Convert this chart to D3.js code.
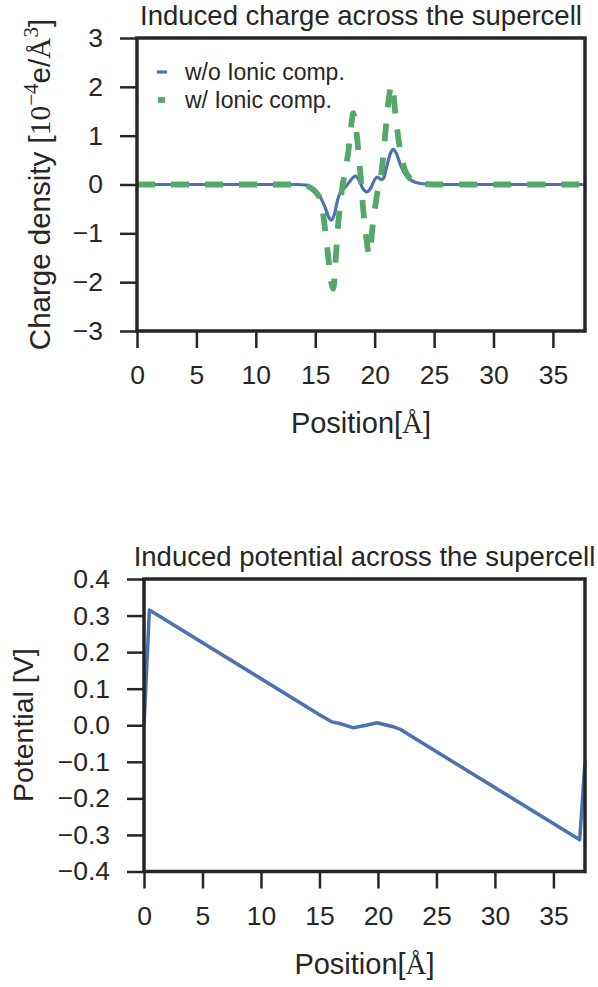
<!doctype html>
<html>
<head>
<meta charset="utf-8">
<title>Induced charge / potential</title>
<script src="https://cdn.jsdelivr.net/npm/d3@7"></script>
<style>
body{margin:0;background:#fff;}
text{font-family:"Liberation Sans",Arial,sans-serif;fill:#262626;}
.serif{font-family:"Liberation Serif","DejaVu Serif",serif;}
</style>
</head>
<body>
<script>
// induced charge density, 10^-4 e/Å^3
var posNoIon = [0, 13.5, 14.2, 14.6, 15.0, 15.4, 15.8, 16.1, 16.35, 16.6, 16.9, 17.2, 17.5, 17.9, 18.2, 18.4, 18.7, 19.0, 19.35, 19.7, 20.0, 20.25, 20.55, 20.75, 21.0, 21.3, 21.55, 21.8, 22.2, 22.7, 23.1, 23.5, 24.0, 25.0, 37.7];
var rhoNoIon = [0, 0, -0.01, -0.05, -0.13, -0.25, -0.45, -0.65, -0.73, -0.62, -0.3, -0.12, -0.06, 0.06, 0.15, 0.17, 0.08, -0.08, -0.15, -0.06, 0.1, 0.15, 0.1, 0.13, 0.35, 0.62, 0.72, 0.65, 0.38, 0.16, 0.08, 0.04, 0.015, 0, 0];
var posIon = [0, 13.5, 14.3, 14.85, 15.2, 15.5, 15.8, 16.1, 16.35, 16.52, 16.7, 16.9, 17.2, 17.5, 17.8, 18.05, 18.2, 18.4, 18.77, 19.04, 19.3, 19.55, 19.88, 20.17, 20.6, 20.87, 21.14, 21.43, 21.8, 22.1, 22.55, 23.0, 23.7, 24.5, 25.5, 37.7];
var rhoIon = [0, 0, -0.03, -0.11, -0.2, -0.35, -0.86, -1.5, -2.0, -2.13, -1.6, -0.9, -0.18, 0.25, 0.7, 1.25, 1.46, 1.2, 0.3, -0.52, -1.1, -1.44, -0.73, -0.25, 0.3, 0.98, 1.66, 2.04, 1.32, 0.77, 0.3, 0.12, 0.03, 0.005, 0, 0];

// induced potential, V
var posPot = [0, 0.46, 15.0, 16.0, 16.8, 17.9, 19.0, 19.9, 21.3, 21.9, 23.0, 37.25, 37.7];
var potential = [0, 0.315, 0.029, 0.01, 0.004, -0.007, 0.0, 0.007, -0.004, -0.011, -0.033, -0.313, -0.1];

var posTicks = [0, 5, 10, 15, 20, 25, 30, 35];
var rhoTicks = [-3, -2, -1, 0, 1, 2, 3];
var potTicks = [-0.4, -0.3, -0.2, -0.1, 0.0, 0.1, 0.2, 0.3, 0.4];

var blue = "#4c72b0", green = "#55a868", ink = "#262626";
var W = 598, H = 987;

var svg = d3.select("body").append("svg")
  .attr("width", W).attr("height", H);

function panel(box, yDomain, yTicks, yFmt, title) {
  var x = d3.scaleLinear().domain([0, 37.7]).range([box.left, box.right]);
  var y = d3.scaleLinear().domain(yDomain).range([box.bottom, box.top]);

  // axes, ticks outward like seaborn "ticks" style
  var gx = svg.append("g")
    .attr("transform", "translate(0," + box.bottom + ")")
    .call(d3.axisBottom(x).tickValues(posTicks).tickSize(17).tickSizeOuter(0).tickPadding(17.5));
  var gy = svg.append("g")
    .attr("transform", "translate(" + box.left + ",0)")
    .call(d3.axisLeft(y).tickValues(yTicks).tickFormat(yFmt).tickSize(17).tickSizeOuter(0).tickPadding(17));
  [gx, gy].forEach(function(g){
    g.select(".domain").remove();
    g.selectAll("line").attr("stroke", ink).attr("stroke-width", 2.5);
    g.selectAll("text").attr("font-size", 26.5).attr("fill", ink)
      .style("font-family", "'Liberation Sans',Arial,sans-serif");
  });

  svg.append("text")
    .attr("x", (box.left + box.right) / 2).attr("y", box.top - 13)
    .attr("text-anchor", "middle").attr("font-size", 27.5)
    .text(title);

  var xl = svg.append("text")
    .attr("x", (box.left + box.right) / 2).attr("y", box.bottom + 102)
    .attr("text-anchor", "middle").attr("font-size", 29);
  xl.append("tspan").text("Position[");
  xl.append("tspan").attr("class", "serif").text("Å");
  xl.append("tspan").text("]");

  return {x: x, y: y};
}

// ---------- upper panel: charge density ----------
var boxA = {left: 137, right: 585, top: 38, bottom: 331};
var s1 = panel(boxA, [-3, 3], rhoTicks, d3.format("d"), "Induced charge across the supercell");

svg.append("clipPath").attr("id", "c1").append("rect")
  .attr("x", boxA.left).attr("y", boxA.top)
  .attr("width", boxA.right - boxA.left).attr("height", boxA.bottom - boxA.top);

var line1 = d3.line().curve(d3.curveMonotoneX);
svg.append("path")
  .attr("clip-path", "url(#c1)")
  .attr("d", line1(posNoIon.map(function(d, i){ return [s1.x(d), s1.y(rhoNoIon[i])]; })))
  .attr("fill", "none").attr("stroke", blue).attr("stroke-width", 3.2);
svg.append("path")
  .attr("clip-path", "url(#c1)")
  .attr("d", line1(posIon.map(function(d, i){ return [s1.x(d), s1.y(rhoIon[i])]; })))
  .attr("fill", "none").attr("stroke", green).attr("stroke-width", 5.8)
  .attr("stroke-dasharray", "18,16");

svg.append("rect")
  .attr("x", boxA.left).attr("y", boxA.top)
  .attr("width", boxA.right - boxA.left).attr("height", boxA.bottom - boxA.top)
  .attr("fill", "none").attr("stroke", ink).attr("stroke-width", 3.5);

// y label with mathtext-ish parts
var yl1 = svg.append("text")
  .attr("transform", "translate(50," + (boxA.top + boxA.bottom) / 2 + ") rotate(-90)")
  .attr("text-anchor", "middle").attr("font-size", 29.5);
yl1.append("tspan").text("Charge density [");
yl1.append("tspan").attr("class", "serif").text("10");
yl1.append("tspan").attr("class", "serif").attr("font-size", 21).attr("dy", -12).text("\u22124");
yl1.append("tspan").attr("dy", 12).text("e/");
yl1.append("tspan").attr("class", "serif").text("Å");
yl1.append("tspan").attr("class", "serif").attr("font-size", 21).attr("dy", -12).text("3");
yl1.append("tspan").attr("dy", 12).text("]");

// legend
var legend = [
  {label: "w/o Ionic comp.", color: blue, y: 72, x1: 157, x2: 167, w: 3.2},
  {label: "w/ Ionic comp.", color: green, y: 100, x1: 158, x2: 165, w: 5.8}
];
legend.forEach(function(d){
  svg.append("line").attr("x1", d.x1).attr("x2", d.x2).attr("y1", d.y).attr("y2", d.y)
    .attr("stroke", d.color).attr("stroke-width", d.w);
  svg.append("text").attr("x", 185).attr("y", d.y + 8).attr("font-size", 23).text(d.label);
});

// ---------- lower panel: potential ----------
var boxB = {left: 144, right: 585, top: 579, bottom: 871.5};
var s2 = panel(boxB, [-0.4, 0.4], potTicks, d3.format(".1f"), "Induced potential across the supercell");

svg.append("path")
  .attr("d", d3.line()(posPot.map(function(d, i){ return [s2.x(d), s2.y(potential[i])]; })))
  .attr("fill", "none").attr("stroke", blue).attr("stroke-width", 3.5)
  .attr("stroke-linejoin", "round");

svg.append("rect")
  .attr("x", boxB.left).attr("y", boxB.top)
  .attr("width", boxB.right - boxB.left).attr("height", boxB.bottom - boxB.top)
  .attr("fill", "none").attr("stroke", ink).attr("stroke-width", 3.5);

svg.append("text")
  .attr("transform", "translate(33," + (boxB.top + boxB.bottom) / 2 + ") rotate(-90)")
  .attr("text-anchor", "middle").attr("font-size", 28.5)
  .text("Potential [V]");
</script>
</body>
</html>
